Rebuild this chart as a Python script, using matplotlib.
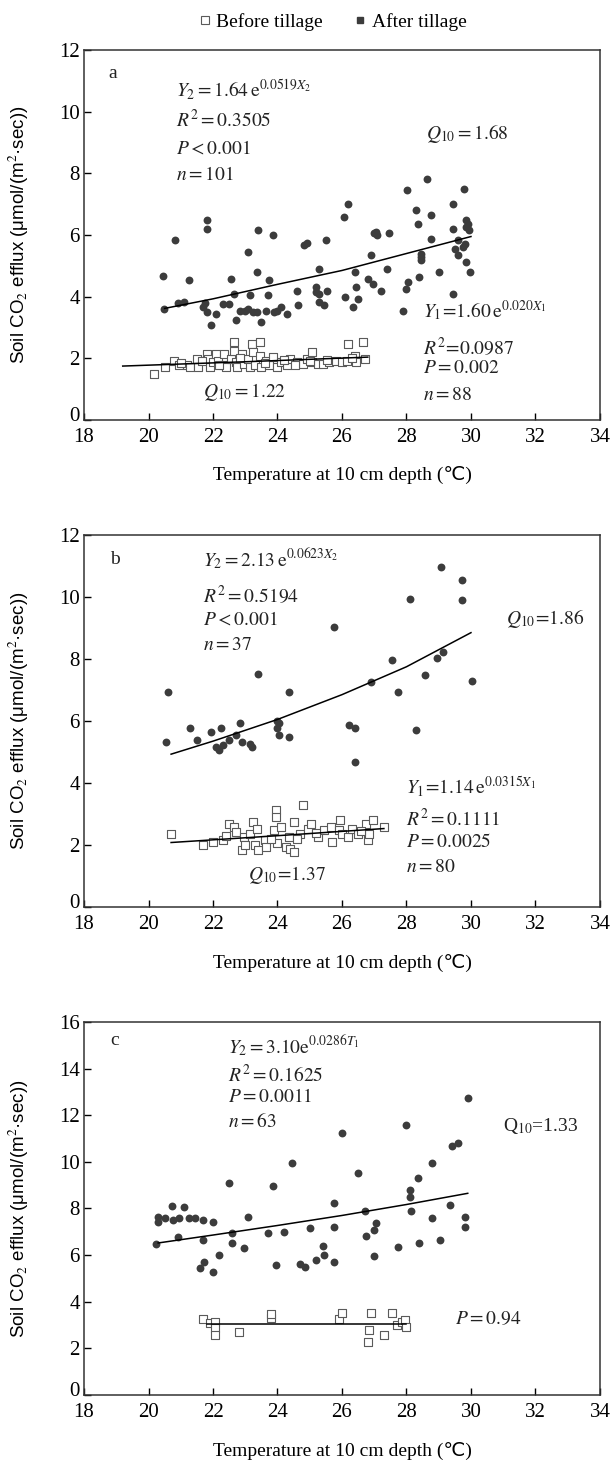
import matplotlib
matplotlib.use("Agg")
import matplotlib.pyplot as plt
import matplotlib.transforms as mtransforms
from matplotlib.lines import Line2D

plt.rcParams['font.family'] = ['Liberation Serif', 'DejaVu Sans']
plt.rcParams['mathtext.fontset'] = 'stix'

# ---- panel a ----
a_after_x = [20.48, 20.45, 20.82, 20.9, 21.1, 21.26, 21.8, 21.8, 21.7, 21.75, 21.8, 21.93,
             22.1, 22.5, 22.55, 22.65, 22.7, 22.85, 23.0, 23.1, 23.25, 23.35, 23.1, 23.15,
             23.35, 23.4, 23.5, 23.65, 23.75, 23.7, 23.87, 24.0, 24.1, 24.3, 24.6, 24.65,
             24.83, 24.9, 25.2, 25.3, 25.3, 25.3, 25.45, 25.5, 25.55, 26.05, 26.1, 26.2,
             26.35, 26.4, 26.45, 26.5, 26.9, 26.8, 26.95, 27.0, 27.05, 27.1, 27.2, 27.4,
             27.45, 27.9, 28.0, 28.05, 28.03, 28.28, 28.35, 28.4, 28.45, 28.45, 28.64, 28.76,
             28.76, 29.0, 29.43, 29.43, 29.43, 29.5, 29.6, 29.78, 29.85, 29.85, 29.8, 29.75,
             29.85, 29.97, 29.95, 29.9, 23.9, 22.3, 25.2, 28.45, 29.6]
a_after_y = [3.61, 4.66, 5.83, 3.79, 3.82, 4.55, 6.2, 6.5, 3.66, 3.8, 3.5, 3.07,
             3.45, 3.77, 4.58, 4.1, 3.23, 3.55, 3.55, 3.6, 3.5, 3.5, 5.45, 4.04,
             4.8, 6.15, 3.17, 3.55, 4.53, 4.04, 6.0, 3.55, 3.66, 3.45, 4.2, 3.72,
             5.67, 5.74, 4.3, 4.1, 4.9, 3.82, 3.72, 5.85, 4.2, 6.59, 3.99, 7.02,
             3.66, 4.8, 4.3, 3.93, 5.34, 4.58, 4.42, 6.05, 6.1, 6.0, 4.2, 4.9,
             6.05, 3.55, 4.26, 4.47, 7.45, 6.8, 6.37, 4.64, 5.4, 5.18, 7.83, 6.64,
             5.88, 4.8, 4.1, 7.02, 6.2, 5.56, 5.34, 7.5, 6.48, 6.26, 5.72, 5.6,
             5.12, 4.8, 6.15, 6.35, 3.5, 3.75, 4.15, 5.3, 5.85]
a_before_x = [20.18, 20.5, 20.8, 20.96, 21.2, 21.3, 21.5, 21.55, 21.8, 21.85, 21.9, 22.0,
              22.1, 22.15, 22.3, 22.35, 22.4, 22.55, 22.65, 22.65, 22.7, 22.75, 22.9, 22.95,
              23.1, 23.15, 23.2, 23.25, 23.3, 23.45, 23.45, 23.5, 23.65, 23.75, 23.87, 24.0,
              24.1, 24.3, 24.4, 24.6, 24.8, 24.9, 25.07, 25.07, 25.25, 25.4, 25.6, 25.8,
              26.0, 26.15, 26.2, 26.4, 26.45, 26.65, 26.7, 21.0, 21.65, 22.2, 22.85, 23.6,
              24.2, 24.55, 25.0, 25.55, 26.3]
a_before_y = [1.5, 1.73, 1.9, 1.8, 1.77, 1.71, 1.98, 1.71, 2.15, 1.98, 1.71, 1.87,
              2.15, 1.93, 1.77, 2.15, 1.71, 1.98, 2.52, 2.25, 1.87, 1.71, 2.15, 1.82,
              1.98, 1.71, 2.47, 2.2, 1.77, 2.52, 2.09, 1.71, 1.93, 1.77, 2.04, 1.71,
              1.87, 1.77, 1.98, 1.87, 1.82, 1.98, 2.2, 1.87, 1.82, 1.82, 1.87, 1.93,
              1.87, 1.93, 2.47, 2.09, 1.87, 2.52, 1.98, 1.85, 1.9, 1.8, 2.0, 1.85,
              1.95, 1.8, 1.9, 1.95, 2.0]
a_fit_after_x = [20.5, 22, 24, 26, 28, 30]
a_fit_after_y = [3.62, 3.93, 4.4, 4.85, 5.4, 5.95]
a_fit_before_x = [19.2, 23, 26.8]
a_fit_before_y = [1.75, 1.89, 2.04]

# ---- panel b ----
b_after_x = [20.6, 20.54, 21.3, 21.5, 21.94, 22.1, 22.2, 22.25, 22.3, 22.5, 22.7, 22.85,
             22.9, 23.15, 23.2, 23.4, 24.0, 24.05, 24.0, 24.05, 24.35, 24.35, 25.74, 26.22,
             26.4, 26.4, 26.9, 27.55, 27.75, 28.1, 28.3, 28.57, 28.95, 29.12, 29.06, 29.73,
             29.73, 30.03]
b_after_y = [6.94, 5.33, 5.76, 5.38, 5.63, 5.17, 5.06, 5.76, 5.22, 5.38, 5.54, 5.92,
             5.33, 5.27, 5.17, 7.53, 6.0, 5.92, 5.76, 5.54, 6.94, 5.49, 9.04, 5.87,
             5.76, 4.68, 7.27, 7.97, 6.92, 9.92, 5.7, 7.48, 8.02, 8.23, 10.98, 10.55,
             9.9, 7.29]
b_before_x = [20.7, 21.7, 22.0, 22.3, 22.5, 22.65, 22.7, 22.9, 22.95, 23.15, 23.25, 23.3,
              23.35, 23.4, 23.6, 23.65, 23.9, 23.95, 23.95, 24.0, 24.1, 24.25, 24.35, 24.4,
              24.5, 24.5, 24.7, 24.8, 24.95, 25.05, 25.25, 25.45, 25.65, 25.7, 25.9, 25.95,
              26.0, 26.2, 26.3, 26.5, 26.75, 26.8, 26.85, 26.95, 27.3, 22.4, 23.0, 23.8,
              24.6, 25.2, 26.6]
b_before_y = [2.35, 1.99, 2.1, 2.15, 2.69, 2.58, 2.42, 1.83, 2.26, 2.37, 2.74, 1.99,
              2.53, 1.83, 2.15, 1.94, 2.48, 3.12, 2.9, 2.05, 2.58, 1.94, 2.26, 1.88,
              2.74, 1.78, 2.37, 3.28, 2.53, 2.69, 2.26, 2.48, 2.58, 2.1, 2.48, 2.8,
              2.37, 2.26, 2.53, 2.37, 2.69, 2.15, 2.37, 2.8, 2.58, 2.3, 2.0, 2.2,
              2.2, 2.4, 2.45]
b_fit_after_x = [20.7, 22, 24, 26, 28, 30]
b_fit_after_y = [4.93, 5.35, 6.05, 6.85, 7.75, 8.85]
b_fit_before_x = [20.7, 24, 27.3]
b_fit_before_y = [2.08, 2.3, 2.53]

# ---- panel c ----
c_after_x = [20.24, 20.3, 20.3, 20.5, 20.73, 20.75, 20.9, 20.95, 21.1, 21.25, 21.45, 21.7,
             21.7, 21.6, 21.72, 22.0, 22.0, 22.2, 22.5, 22.6, 22.6, 22.96, 23.1, 23.87,
             23.7, 23.94, 24.2, 24.45, 24.7, 24.85, 25.0, 25.2, 25.4, 25.45, 25.75, 25.75,
             25.75, 26.0, 26.5, 26.7, 26.75, 27.0, 27.05, 27.0, 27.75, 28.0, 28.1, 28.1,
             28.15, 28.35, 28.4, 28.8, 28.8, 29.05, 29.35, 29.4, 29.6, 29.8, 29.8, 29.9]
c_after_y = [6.48, 7.65, 7.44, 7.58, 8.11, 7.51, 6.77, 7.58, 8.08, 7.58, 7.58, 7.51,
             6.65, 5.44, 5.72, 5.29, 7.44, 6.0, 9.11, 6.51, 6.94, 6.3, 7.62, 8.97,
             6.94, 5.58, 6.97, 9.97, 5.62, 5.51, 7.15, 5.79, 6.37, 6.0, 8.25, 7.2,
             5.72, 11.23, 9.51, 7.87, 6.8, 7.08, 7.37, 5.94, 6.34, 11.59, 8.8, 8.51,
             7.91, 9.3, 6.54, 9.97, 7.58, 6.65, 8.15, 10.66, 10.8, 7.65, 7.22, 12.73]
c_before_x = [21.7, 21.9, 22.05, 22.05, 22.05, 22.8, 23.8, 23.8, 25.9, 26.0, 26.9, 26.85,
              26.8, 27.3, 27.55, 27.7, 27.85, 27.95, 28.0]
c_before_y = [3.25, 3.08, 3.15, 2.86, 2.58, 2.68, 3.29, 3.48, 3.25, 3.5, 3.5, 2.79,
              2.29, 2.58, 3.53, 3.0, 3.15, 3.22, 2.93]
c_fit_after_x = [20.3, 22, 24, 26, 28, 29.9]
c_fit_after_y = [6.52, 6.86, 7.27, 7.7, 8.17, 8.65]
c_fit_before_x = [21.8, 28.0]
c_fit_before_y = [3.03, 3.03]

after_color = '#3c3c3c'
before_color = '#5a5a5a'


def drawPanel(fig, ax, after_x, after_y, before_x, before_y,
              fit_a, fit_b, ymax, ystep, notes):
    ax.scatter(before_x, before_y, marker='s', s=28, facecolors='white',
               edgecolors=before_color, linewidths=0.8, zorder=2)
    ax.scatter(after_x, after_y, marker='o', s=32, color=after_color,
               linewidths=0, zorder=3)
    ax.plot(fit_a[0], fit_a[1], color='black', lw=1.1, zorder=4)
    ax.plot(fit_b[0], fit_b[1], color='black', lw=1.1, zorder=4)

    ax.set_xlim(18, 34)
    ax.set_ylim(0, ymax)
    ax.set_xticks(range(18, 35, 2))
    ax.set_yticks(range(0, ymax + 1, ystep))
    ax.tick_params(direction='in', length=5, width=1, labelsize=15,
                   top=False, right=False)
    ax.tick_params(axis='x', pad=6)
    ax.tick_params(axis='y', pad=3)
    for sp in ax.spines.values():
        sp.set_linewidth(1.1)
        sp.set_color('#333333')

    # nudge the "0" up a little so it sits clear of the "18" in the corner
    zero = ax.get_yticklabels()[0]
    zero.set_transform(zero.get_transform() +
                       mtransforms.ScaledTranslation(0, 4 / 72, fig.dpi_scale_trans))

    ax.set_xlabel('Temperature at 10 cm depth (\u2103)', fontsize=14)
    ax.xaxis.set_label_coords(0.5, -0.125)
    ax.set_ylabel('Soil CO$_2$ efflux (\u03bcmol/(m$^2$\u00b7sec))', fontsize=13.5,
                  family=['Liberation Sans', 'DejaVu Sans'])
    ax.yaxis.set_label_coords(-0.103, 0.5)

    for x, y, s in notes:
        ax.text(x, y, s, fontsize=14, va='center', ha='left', color='#222222')


fig = plt.figure(figsize=(6.12, 14.61), dpi=100)
ax_a = fig.add_axes([0.1373, 0.7125, 0.843, 0.2533])
ax_b = fig.add_axes([0.1373, 0.3792, 0.843, 0.2546])
ax_c = fig.add_axes([0.1373, 0.0452, 0.843, 0.2553])

drawPanel(fig, ax_a, a_after_x, a_after_y, a_before_x, a_before_y,
          (a_fit_after_x, a_fit_after_y), (a_fit_before_x, a_fit_before_y), 12, 2,
          [(18.75, 11.25, 'a'),
           (20.85, 10.7, r'$Y_2 = 1.64\,\mathrm{e}^{0.0519X_2}$'),
           (20.85, 9.73, r'$R^2 = 0.3505$'),
           (20.85, 8.8, r'$P < 0.001$'),
           (20.85, 7.94, r'$n = 101$'),
           (28.6, 9.3, r'$Q_{10} = 1.68$'),
           (28.5, 3.55, r'$Y_1\!=\!1.60\,\mathrm{e}^{0.020X_1}$'),
           (28.5, 2.36, r'$R^2\!=\!0.0987$'),
           (28.5, 1.66, r'$P = 0.002$'),
           (28.5, 0.79, r'$n = 88$'),
           (21.7, 0.9, r'$Q_{10} = 1.22$')])

drawPanel(fig, ax_b, b_after_x, b_after_y, b_before_x, b_before_y,
          (b_fit_after_x, b_fit_after_y), (b_fit_before_x, b_fit_before_y), 12, 2,
          [(18.8, 11.2, 'b'),
           (21.7, 11.2, r'$Y_2 = 2.13\,\mathrm{e}^{0.0623X_2}$'),
           (21.7, 10.06, r'$R^2 = 0.5194$'),
           (21.7, 9.26, r'$P < 0.001$'),
           (21.7, 8.45, r'$n = 37$'),
           (31.1, 9.31, r'$Q_{10}\!=\!1.86$'),
           (28.0, 3.88, r'$Y_1\!=\!1.14\,\mathrm{e}^{0.0315X_1}$'),
           (28.0, 2.85, r'$R^2 = 0.1111$'),
           (28.0, 2.1, r'$P = 0.0025$'),
           (28.0, 1.29, r'$n = 80$'),
           (23.1, 1.02, r'$Q_{10}\!=\!1.37$')])

drawPanel(fig, ax_c, c_after_x, c_after_y, c_before_x, c_before_y,
          (c_fit_after_x, c_fit_after_y), (c_fit_before_x, c_fit_before_y), 16, 2,
          [(18.8, 15.2, 'c'),
           (22.45, 14.95, r'$Y_2 = 3.10\mathrm{e}^{0.0286T_1}$'),
           (22.45, 13.73, r'$R^2 = 0.1625$'),
           (22.45, 12.8, r'$P = 0.0011$'),
           (22.45, 11.73, r'$n = 63$'),
           (31.0, 11.52, r'Q$_{10}$=1.33'),
           (29.5, 3.25, r'$P = 0.94$')])

# legend on top of the figure
handles = [Line2D([], [], ls='none', marker='s', markersize=6, markerfacecolor='white',
                  markeredgecolor=before_color, markeredgewidth=0.8),
           Line2D([], [], ls='none', marker='s', markersize=5, color=after_color)]
fig.legend(handles, ['Before tillage', 'After tillage'], loc='center',
           bbox_to_anchor=(0.542, 0.985), ncol=2, frameon=False, fontsize=14,
           handletextpad=0.2, columnspacing=1.5, handlelength=0.8)

fig.savefig('out.png', dpi=100)
